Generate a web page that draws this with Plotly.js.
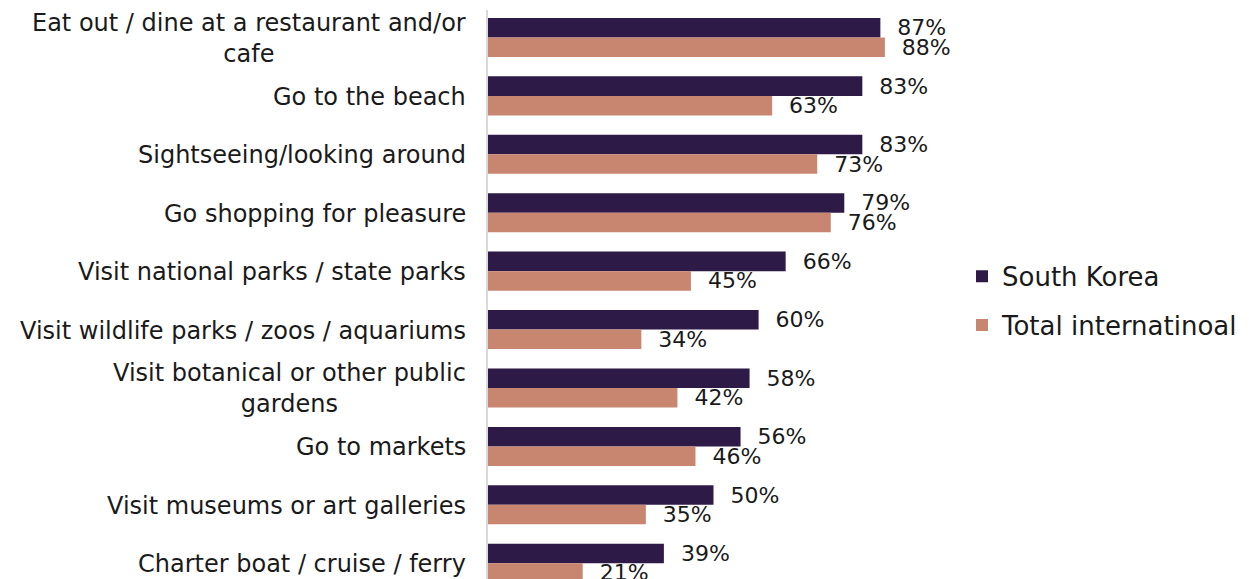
<!DOCTYPE html>
<html>
<head>
<meta charset="utf-8">
<script src="https://cdn.plot.ly/plotly-3.0.1.min.js"></script>
<style>html,body{margin:0;padding:0;background:#fff;overflow:hidden}#chart{width:1249px;height:579px}</style>
</head>
<body>
<div id="chart"></div>
<script>
const categories = [
  "Eat out / dine at a restaurant and/or<br>cafe",
  "Go to the beach",
  "Sightseeing/looking around",
  "Go shopping for pleasure",
  "Visit national parks / state parks",
  "Visit wildlife parks / zoos / aquariums",
  "Visit botanical or other public<br>gardens",
  "Go to markets",
  "Visit museums or art galleries",
  "Charter boat / cruise / ferry"
];
const southKorea = [87, 83, 83, 79, 66, 60, 58, 56, 50, 39];
const totalInternational = [88, 63, 73, 76, 45, 34, 42, 46, 35, 21];
const seriesNames = ["South Korea", "Total internatinoal"];

const FONT = "DejaVu Sans, Verdana, sans-serif";
const DARK = "#2e1a47";
const SALMON = "#c88570";

function barTrace(name, vals, color, group) {
  return {
    type: "bar", orientation: "h", name: name,
    x: vals, y: categories,
    marker: {color: color},
    text: vals.map(v => v + "%"),
    texttemplate: "\u00A0\u00A0%{text}",
    textposition: "outside",
    constraintext: "none",
    cliponaxis: false,
    textfont: {family: FONT, size: 22, color: "#1a1a1a"},
    hoverinfo: "x+y",
    legendgroup: group
  };
}

const data = [
  barTrace(seriesNames[0], southKorea, DARK, "a"),
  barTrace(seriesNames[1], totalInternational, SALMON, "b")
];

const annotations = categories.map(c => ({
  xref: "paper", yref: "y", x: 0, y: c,
  xanchor: "right", yanchor: "middle", xshift: -20, yshift: -1,
  align: "center", showarrow: false, text: c,
  font: {family: FONT, size: 24, color: "#1a1a1a"}
}));

const layout = {
  width: 1249, height: 579,
  margin: {l: 488, r: 310, t: 10, b: 0, pad: 0},
  paper_bgcolor: "#ffffff", plot_bgcolor: "#ffffff",
  font: {family: FONT, color: "#1a1a1a"},
  barmode: "group", bargap: 0.332, bargroupgap: 0,
  showlegend: true,
  legend: {
    x: 1.051, y: 0.489, xanchor: "left", yanchor: "middle",
    font: {family: FONT, size: 26, color: "#1a1a1a"},
    traceorder: "grouped", tracegroupgap: 12,
    bgcolor: "rgba(0,0,0,0)"
  },
  xaxis: {range: [0, 100], visible: false, showgrid: false, zeroline: false, fixedrange: true},
  yaxis: {
    type: "category", categoryorder: "array", categoryarray: categories,
    range: [9.27, -0.47], showticklabels: false, ticks: "",
    showline: true, linecolor: "#d9d9d9", linewidth: 2, showgrid: false, zeroline: false
  },
  annotations: annotations
};

Plotly.newPlot("chart", data, layout, {displayModeBar: false, staticPlot: true});
</script>
</body>
</html>
